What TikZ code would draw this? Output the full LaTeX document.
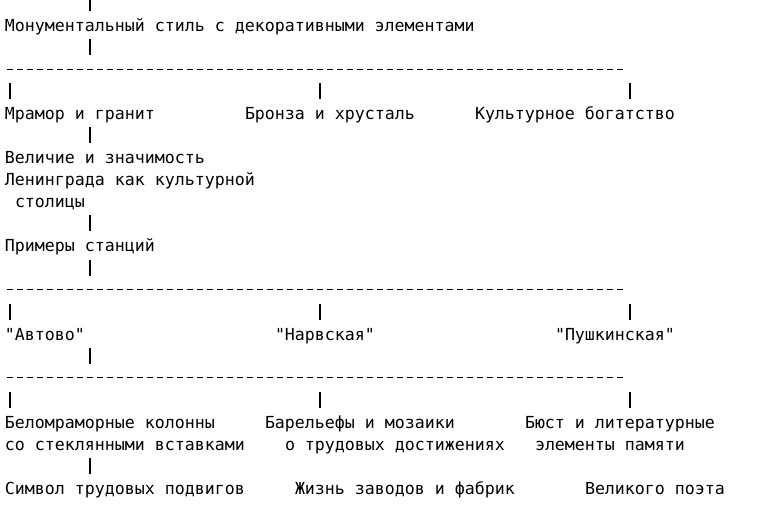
\documentclass[tikz,border=0pt]{standalone}
\usepackage{fontspec}
\newfontfamily\asciifont{DejaVu Sans Mono}
\tikzset{
  lbl/.style={anchor=base west, inner sep=0pt, outer sep=0pt,
    font=\asciifont\fontsize{16.6}{20}\selectfont, text=black},
  pipe/.style={draw=black, line width=1.3pt},
  bus/.style={draw=black, line width=1pt, dash pattern=on 6pt off 4pt},
}
% column x of a character cell start, row centre y
\newcommand\cx[1]{5+10*#1}
\newcommand\pc[1]{10+10*#1}
\newcommand\rc[1]{3+22.05*#1}
% a pipe glyph: named end points, drawn between them
\newcommand\vpipe[3]{%
  \coordinate (#1-a) at ({\pc{#2}},{\rc{#3}-8});
  \coordinate (#1-b) at ({\pc{#2}},{\rc{#3}+8});
  \draw[pipe] (#1-a) -- (#1-b);}
% a dashed bus line on a row
\newcommand\hbus[2]{%
  \coordinate (#1-w) at (7,{\rc{#2}});
  \coordinate (#1-e) at (623,{\rc{#2}});
  \draw[bus] (#1-w) -- (#1-e);}
\newcommand\txt[4]{\node[lbl] (#1) at ({\cx{#2}},{\rc{#3}+6.3}) {#4};}
\begin{document}
\begin{tikzpicture}[x=1pt,y=-1pt]
\path[use as bounding box, fill=white] (0,0) rectangle (757,518);

\vpipe{p0}{8}{0}
\txt{title}{0}{1}{Монументальный стиль с декоративными элементами}
\vpipe{p2}{8}{2}
\hbus{bus1}{3}
\vpipe{p4a}{0}{4}
\vpipe{p4b}{31}{4}
\vpipe{p4c}{62}{4}
\txt{mramor}{0}{5}{Мрамор и гранит}
\txt{bronza}{24}{5}{Бронза и хрусталь}
\txt{kult}{47}{5}{Культурное богатство}
\vpipe{p6}{8}{6}
\txt{vel1}{0}{7}{Величие и значимость}
\txt{vel2}{0}{8}{Ленинграда как культурной}
\txt{vel3}{1}{9}{столицы}
\vpipe{p10}{8}{10}
\txt{primery}{0}{11}{Примеры станций}
\vpipe{p12}{8}{12}
\hbus{bus2}{13}
\vpipe{p14a}{0}{14}
\vpipe{p14b}{31}{14}
\vpipe{p14c}{62}{14}
\txt{avtovo}{0}{15}{"Автово"}
\txt{narv}{27}{15}{"Нарвская"}
\txt{push}{55}{15}{"Пушкинская"}
\vpipe{p16}{8}{16}
\hbus{bus3}{17}
\vpipe{p18a}{0}{18}
\vpipe{p18b}{31}{18}
\vpipe{p18c}{62}{18}
\txt{bel1}{0}{19}{Беломраморные колонны}
\txt{bar1}{26}{19}{Барельефы и мозаики}
\txt{bust1}{52}{19}{Бюст и литературные}
\txt{bel2}{0}{20}{со стеклянными вставками}
\txt{bar2}{28}{20}{о трудовых достижениях}
\txt{bust2}{53}{20}{элементы памяти}
\vpipe{p21}{8}{21}
\txt{sym}{0}{22}{Символ трудовых подвигов}
\txt{zhizn}{29}{22}{Жизнь заводов и фабрик}
\txt{poet}{58}{22}{Великого поэта}
\end{tikzpicture}
\end{document}
